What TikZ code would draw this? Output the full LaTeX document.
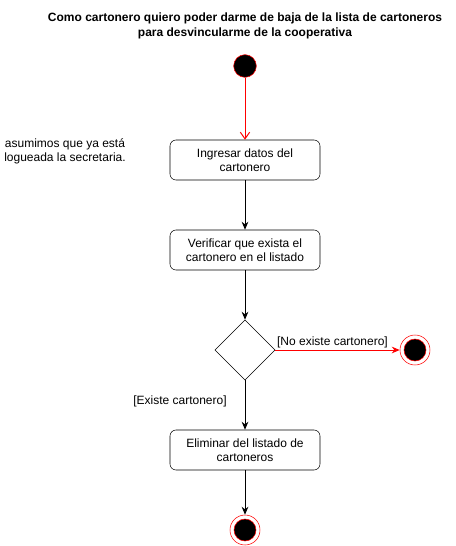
\documentclass[tikz,border=0pt]{standalone}
\usepackage{fontspec}
\setmainfont{Liberation Sans}
\usetikzlibrary{shapes.geometric,arrows.meta}
\begin{document}
\begin{tikzpicture}[x=0.75pt,y=-0.75pt,font=\fontsize{9}{10.5}\selectfont]
      \tikzstyle{accion}=[rectangle, draw, rounded corners=4.5pt, minimum width=112.5pt, minimum height=30pt, align=center, inner sep=0pt]
      \tikzstyle{decision}=[diamond, draw, minimum width=45pt, minimum height=45pt, inner sep=0pt]
      \tikzstyle{inicio}=[circle, draw=red, fill=black, minimum size=17pt, inner sep=0pt]
      \tikzstyle{fin}=[circle, draw=red, fill=white, minimum size=22.5pt, inner sep=0pt,
        path picture={\filldraw[fill=black, draw=red] (path picture bounding box.center) circle (8.25pt);}]
      \tikzstyle{fleche}=[-{Stealth[length=6pt,width=5pt]}, line width=0.75pt]
      \useasboundingbox (0,0) rectangle (456,546);
      
      \node[align=center, font=\fontsize{9}{11.25}\selectfont\bfseries] (Titulo) at (245,25.5) {Como cartonero quiero poder darme de baja de la lista de cartoneros\\para desvincularme de la cooperativa};
      \node[align=center] (Nota) at (65,151) {asumimos que ya está\\logueada la secretaria.};
      \node[inicio] (Inicio) at (245,66) {};
      \node[accion] (Ingresar) at (245,160) {Ingresar datos del\\cartonero};
      \node[accion] (Verificar) at (245,250) {Verificar que exista el\\cartonero en el listado};
      \node[decision] (Existe) at (245,350) {};
      \node[fin] (FinNo) at (415,350) {};
      \node[accion] (Eliminar) at (245,450) {Eliminar del listado de\\cartoneros};
      \node[fin] (FinSi) at (245,530) {};
      \draw[red, line width=0.75pt, -{Straight Barb[length=5pt,width=7pt]}] (Inicio)--(Ingresar);
      \draw[fleche] (Ingresar)--(Verificar);
      \draw[fleche] (Verificar)--(Existe);
      \draw[fleche, red] (Existe)--(FinNo) node[pos=0, anchor=south west, inner sep=1pt, text=black] (LabelNo) {[No existe cartonero]};
      \draw[fleche] (Existe)--(Eliminar);
      \draw[fleche] (Eliminar)--(FinSi);
      \node (LabelSi) at (180,401) {[Existe cartonero]};
      
    \end{tikzpicture}
\end{document}
